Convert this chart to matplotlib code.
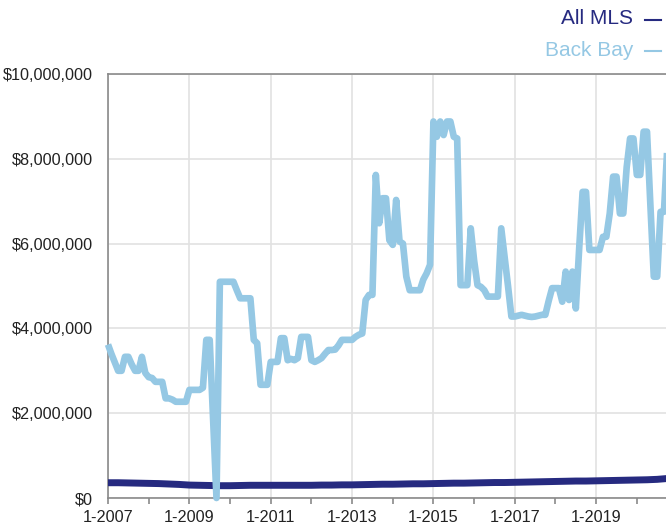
import matplotlib
matplotlib.use("Agg")
import matplotlib.pyplot as plt
from matplotlib.ticker import FuncFormatter, MultipleLocator

plt.rcParams['font.family'] = ['Liberation Sans', 'DejaVu Sans']

# Monthly median sale price, Back Bay (millions of dollars), starting 1-2007
back_bay = [
    3.62, 3.40, 3.20, 3.00, 3.00, 3.33, 3.33, 3.15, 3.00, 3.00, 3.33, 2.95,   # 2007
    2.85, 2.83, 2.74, 2.74, 2.74, 2.35, 2.35, 2.32, 2.27, 2.27, 2.27, 2.27,   # 2008
    2.55, 2.55, 2.55, 2.55, 2.60, 3.73, 3.73, 1.85, 0.00, 5.10, 5.10, 5.10,   # 2009
    5.10, 5.10, 4.90, 4.71, 4.71, 4.71, 4.71, 3.73, 3.65, 2.67, 2.67, 2.67,   # 2010
    3.21, 3.21, 3.21, 3.77, 3.77, 3.25, 3.28, 3.25, 3.30, 3.80, 3.80, 3.80,   # 2011
    3.25, 3.21, 3.25, 3.30, 3.40, 3.49, 3.49, 3.50, 3.60, 3.73, 3.73, 3.73,   # 2012
    3.73, 3.80, 3.85, 3.88, 4.67, 4.79, 4.79, 7.62, 6.48, 7.07, 7.07, 6.08,   # 2013
    5.97, 7.03, 6.05, 6.00, 5.22, 4.90, 4.90, 4.90, 4.90, 5.15, 5.30, 5.50,   # 2014
    8.88, 8.52, 8.88, 8.56, 8.88, 8.88, 8.52, 8.48, 5.02, 5.02, 5.02, 6.36,   # 2015
    5.60, 5.02, 4.98, 4.90, 4.75, 4.75, 4.75, 4.75, 6.36, 5.69, 5.00, 4.28,   # 2016
    4.28, 4.30, 4.32, 4.30, 4.28, 4.27, 4.28, 4.30, 4.32, 4.32, 4.65, 4.95,   # 2017
    4.95, 4.95, 4.63, 5.34, 4.67, 5.34, 4.47, 5.90, 7.22, 7.22, 5.85, 5.85,   # 2018
    5.85, 5.85, 6.16, 6.16, 6.71, 7.58, 7.58, 6.71, 6.71, 7.80, 8.48, 8.48,   # 2019
    7.62, 7.62, 8.64, 8.64, 6.90, 5.22, 5.22, 6.75, 6.75, 8.30,               # 2020
]

# Quarterly median sale price, All MLS (millions of dollars), starting 1-2007
all_mls = [
    0.360, 0.360, 0.355, 0.350,   # 2007
    0.345, 0.340, 0.330, 0.320,   # 2008
    0.305, 0.300, 0.295, 0.290,   # 2009
    0.290, 0.295, 0.300, 0.300,   # 2010
    0.300, 0.300, 0.300, 0.300,   # 2011
    0.300, 0.305, 0.305, 0.310,   # 2012
    0.310, 0.315, 0.320, 0.325,   # 2013
    0.325, 0.330, 0.335, 0.335,   # 2014
    0.340, 0.345, 0.350, 0.350,   # 2015
    0.355, 0.360, 0.365, 0.365,   # 2016
    0.370, 0.375, 0.380, 0.385,   # 2017
    0.390, 0.395, 0.400, 0.400,   # 2018
    0.405, 0.410, 0.415, 0.420,   # 2019
    0.425, 0.430, 0.440, 0.460,   # 2020
]
all_mls_months = [3 * i for i in range(len(all_mls) - 1)] + [165]

tick_years = [2007, 2009, 2011, 2013, 2015, 2017, 2019]
tick_labels = [f"1-{y}" for y in tick_years]
series_names = ["All MLS", "Back Bay"]

navy = "#262a80"
light = "#95c8e4"

W, H = 666, 525
fig = plt.figure(figsize=(W / 100, H / 100), dpi=100)
ax = fig.add_axes([108 / W, (H - 498) / H, (666 - 108) / W, (498 - 74) / H])

bb_months = list(range(len(back_bay)))
ax.plot(all_mls_months, [v * 1e6 for v in all_mls], color=navy, lw=5.0,
        solid_joinstyle='round', solid_capstyle='round', zorder=3)
ax.plot(bb_months, [v * 1e6 for v in back_bay], color=light, lw=4.8,
        solid_joinstyle='round', solid_capstyle='butt', zorder=4, clip_on=False)

ax.set_xlim(0, 164.6)
ax.set_ylim(0, 10e6)
ax.set_xticks([(y - 2007) * 12 for y in tick_years])
ax.set_xticklabels(tick_labels)
ax.xaxis.set_minor_locator(MultipleLocator(12))
ax.yaxis.set_major_locator(MultipleLocator(2e6))
ax.yaxis.set_major_formatter(FuncFormatter(lambda v, p: f"${v:,.0f}"))

ax.grid(True, which='major', color='#e2e2e2', lw=1.2, zorder=0)
ax.set_axisbelow(True)
for s in ['left', 'bottom', 'top']:
    ax.spines[s].set_color('#8a8a8a')
    ax.spines[s].set_linewidth(1.2)
ax.spines['right'].set_visible(False)

ax.tick_params(axis='x', which='major', length=4, width=1.2, color='#8a8a8a',
               labelsize=11.7, labelcolor='#222222', pad=4.5)
ax.tick_params(axis='x', which='minor', length=4, width=1.2, color='#8a8a8a')
ax.tick_params(axis='y', length=0, labelsize=11.7, labelcolor='#222222', pad=11)

fig.text(633 / W, 1 - 18 / H, series_names[0], color=navy, fontsize=15,
         ha='right', va='center')
fig.text(633 / W, 1 - 50 / H, series_names[1], color=light, fontsize=15,
         ha='right', va='center')
fig.add_artist(plt.Line2D([645 / W, 661 / W], [1 - 20 / H, 1 - 20 / H],
                          color=navy, lw=1.5, transform=fig.transFigure))
fig.add_artist(plt.Line2D([645 / W, 661 / W], [1 - 51 / H, 1 - 51 / H],
                          color=light, lw=1.5, transform=fig.transFigure))

fig.savefig("out.png", dpi=100)
